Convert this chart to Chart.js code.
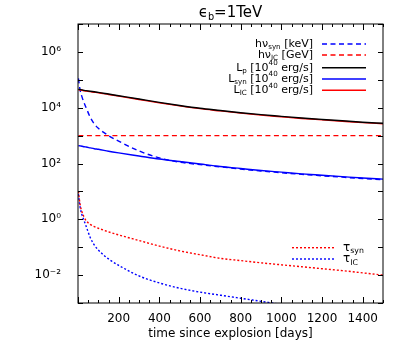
<!DOCTYPE html>
<html>
<head>
<meta charset="utf-8">
<script src="https://cdn.jsdelivr.net/npm/chart.js@4"></script>
<style>
  body { margin: 0; background: #fff; }
  canvas { display: block; }
</style>
</head>
<body>
<canvas id="chart" width="407" height="353"></canvas>
<script>
// time since explosion [days]
const days = [2, 10, 20, 30, 40, 60, 80, 100, 150, 200, 300, 400, 500, 600, 700, 800, 900, 1000, 1100, 1200, 1300, 1400, 1500];

// values (log10 of the plotted quantity)
const hnuSynLog = [5.05, 4.65, 4.38, 4.18, 4.0, 3.66, 3.42, 3.26, 3.0, 2.80, 2.45, 2.20, 2.05, 1.96, 1.88, 1.80, 1.73, 1.67, 1.61, 1.56, 1.51, 1.46, 1.42];
const hnuIcLog = [3, 3, 3, 3, 3, 3, 3, 3, 3, 3, 3, 3, 3, 3, 3, 3, 3, 3, 3, 3, 3, 3, 3];
const lumPLog = [4.66, 4.65, 4.64, 4.62, 4.61, 4.59, 4.57, 4.55, 4.49, 4.43, 4.31, 4.19, 4.08, 3.98, 3.90, 3.82, 3.75, 3.69, 3.63, 3.58, 3.53, 3.48, 3.44];
const lumSynLog = [2.64, 2.63, 2.62, 2.60, 2.59, 2.56, 2.53, 2.51, 2.44, 2.38, 2.27, 2.16, 2.07, 1.98, 1.89, 1.82, 1.75, 1.69, 1.63, 1.58, 1.53, 1.48, 1.44];
const lumIcLog = [4.645, 4.635, 4.625, 4.605, 4.595, 4.575, 4.555, 4.535, 4.475, 4.415, 4.295, 4.175, 4.065, 3.965, 3.885, 3.805, 3.735, 3.675, 3.615, 3.565, 3.515, 3.465, 3.425];
const tauSynLog = [1.0, 0.55, 0.25, 0.08, -0.05, -0.18, -0.26, -0.32, -0.45, -0.56, -0.76, -0.96, -1.13, -1.27, -1.40, -1.48, -1.56, -1.63, -1.70, -1.77, -1.84, -1.92, -2.0];
const tauIcLog = [0.9, 0.45, 0.15, -0.05, -0.25, -0.65, -0.92, -1.10, -1.42, -1.65, -2.03, -2.28, -2.47, -2.61, -2.72, -2.83, -2.94, -3.05, null, null, null, null, null];

const xMajorTicks = [200, 400, 600, 800, 1000, 1200, 1400];
const yDecades = [-3, -2, -1, 0, 1, 2, 3, 4, 5, 6, 7];
const yLabelled = [-2, 0, 2, 4, 6];

const FONT = '"DejaVu Sans", sans-serif';
const sup = { '-': '⁻', '0': '⁰', '1': '¹', '2': '²', '3': '³', '4': '⁴', '5': '⁵', '6': '⁶', '7': '⁷', '8': '⁸', '9': '⁹' };

const toPoints = logs => days.map((t, i) => ({ x: t, y: logs[i] === null ? null : Math.pow(10, logs[i]) }));

const series = (data, color, dash) => ({
  data: toPoints(data),
  borderColor: color,
  borderWidth: 1.4,
  borderDash: dash,
  pointRadius: 0,
  cubicInterpolationMode: 'monotone',
  spanGaps: false
});

// draw text with sub/superscript parts: [text, 0 | -1 (sub) | 1 (sup)]
const richWidth = (ctx, parts, size) => parts.reduce((w, [txt, mode]) => {
  ctx.font = `${mode ? size * 0.65 : size}px ${FONT}`;
  return w + ctx.measureText(txt).width;
}, 0);

const drawRich = (ctx, parts, x, y, size, align) => {
  let cx = align === 'right' ? x - richWidth(ctx, parts, size) : align === 'center' ? x - richWidth(ctx, parts, size) / 2 : x;
  ctx.textBaseline = 'middle';
  ctx.textAlign = 'left';
  parts.forEach(([txt, mode]) => {
    const s = mode ? size * 0.65 : size;
    ctx.font = `${s}px ${FONT}`;
    const dy = mode === -1 ? size * 0.3 : mode === 1 ? -size * 0.4 : 0;
    ctx.fillText(txt, cx, y + dy);
    cx += ctx.measureText(txt).width;
  });
};

const legendTop = [
  { parts: [['hν', 0], ['syn', -1], [' [keV]', 0]], color: 'blue', dash: [5, 3.5], y: 44 },
  { parts: [['hν', 0], ['IC', -1], [' [GeV]', 0]], color: 'red', dash: [5, 3.5], y: 55 },
  { parts: [['L', 0], ['p', -1], [' [10', 0], ['40', 1], [' erg/s]', 0]], color: 'black', dash: [], y: 67.7 },
  { parts: [['L', 0], ['syn', -1], [' [10', 0], ['40', 1], [' erg/s]', 0]], color: 'blue', dash: [], y: 79 },
  { parts: [['L', 0], ['IC', -1], [' [10', 0], ['40', 1], [' erg/s]', 0]], color: 'red', dash: [], y: 90.3 }
];
const legendBottom = [
  { parts: [['τ', 0], ['syn', -1]], color: 'red', dash: [2, 2], y: 247.7 },
  { parts: [['τ', 0], ['IC', -1]], color: 'blue', dash: [2, 2], y: 259 }
];

const framePlugin = {
  id: 'frame',
  afterDraw(chart) {
    const { ctx, chartArea: a, scales } = chart;
    ctx.save();
    ctx.strokeStyle = '#000';
    ctx.fillStyle = '#000';
    ctx.lineWidth = 1;
    ctx.setLineDash([]);
    ctx.strokeRect(a.left, a.top, a.right - a.left, a.bottom - a.top);

    ctx.beginPath();
    for (let v = 0; v <= 1500; v += 50) {
      const px = Math.round(scales.x.getPixelForValue(v)) + 0.5;
      const len = v % 200 === 0 ? 6 : 3;
      ctx.moveTo(px, a.bottom); ctx.lineTo(px, a.bottom - len);
      ctx.moveTo(px, a.top); ctx.lineTo(px, a.top + len);
    }
    yDecades.forEach(e => {
      const py = Math.round(scales.y.getPixelForValue(Math.pow(10, e))) + 0.5;
      ctx.moveTo(a.left, py); ctx.lineTo(a.left + 5, py);
      ctx.moveTo(a.right, py); ctx.lineTo(a.right - 5, py);
    });
    ctx.stroke();

    // title and x axis title
    drawRich(ctx, [['ϵ', 0], ['b', -1], ['=1TeV', 0]], (a.left + a.right) / 2, 13, 15, 'center');
    ctx.font = `12px ${FONT}`;
    ctx.textAlign = 'center';
    ctx.textBaseline = 'middle';
    ctx.fillText('time since explosion [days]', (a.left + a.right) / 2, 334);

    // legends
    ctx.lineWidth = 1.4;
    legendTop.forEach(item => {
      ctx.fillStyle = '#000';
      drawRich(ctx, item.parts, 313, item.y, 11, 'right');
      ctx.strokeStyle = item.color;
      ctx.setLineDash(item.dash);
      ctx.beginPath(); ctx.moveTo(322, item.y); ctx.lineTo(366, item.y); ctx.stroke();
    });
    legendBottom.forEach(item => {
      ctx.fillStyle = '#000';
      drawRich(ctx, item.parts, 343, item.y, 12, 'left');
      ctx.strokeStyle = item.color;
      ctx.setLineDash(item.dash);
      ctx.beginPath(); ctx.moveTo(292, item.y); ctx.lineTo(335, item.y); ctx.stroke();
    });
    ctx.restore();
  }
};

new Chart(document.getElementById('chart'), {
  type: 'line',
  data: {
    // first dataset is drawn on top
    datasets: [
      series(lumPLog, 'black', []),
      series(lumIcLog, 'red', []),
      series(hnuSynLog, 'blue', [5, 3.5]),
      series(lumSynLog, 'blue', []),
      series(hnuIcLog, 'red', [5, 3.5]),
      series(tauSynLog, 'red', [2, 2]),
      series(tauIcLog, 'blue', [2, 2])
    ]
  },
  options: {
    responsive: false,
    animation: false,
    layout: { padding: { left: 0, right: 24, top: 24, bottom: 0 } },
    plugins: { legend: { display: false }, tooltip: { enabled: false } },
    scales: {
      x: {
        type: 'linear',
        min: 0,
        max: 1500,
        afterBuildTicks: s => { s.ticks = xMajorTicks.map(v => ({ value: v })); },
        afterFit: s => { s.height = 50; },
        ticks: { color: '#000', font: { family: FONT, size: 12 }, padding: 1, maxRotation: 0, callback: v => String(v) },
        grid: { display: false },
        border: { display: false }
      },
      y: {
        type: 'logarithmic',
        min: 1e-3,
        max: 1e7,
        afterBuildTicks: s => { s.ticks = yDecades.map(e => ({ value: Math.pow(10, e) })); },
        afterFit: s => { s.width = 78; },
        ticks: {
          color: '#000',
          font: { family: FONT, size: 12 },
          padding: 9,
          callback: v => {
            const e = Math.round(Math.log10(v));
            return yLabelled.includes(e) ? '10' + String(e).split('').map(c => sup[c]).join('') : '';
          }
        },
        grid: { display: false },
        border: { display: false }
      }
    }
  },
  plugins: [framePlugin]
});
</script>
</body>
</html>
